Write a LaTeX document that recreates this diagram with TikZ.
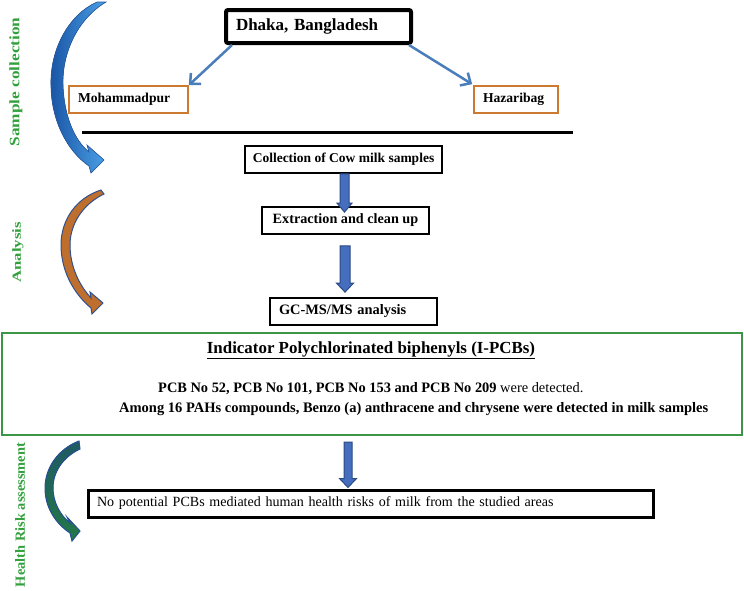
\documentclass[tikz,border=0pt]{standalone}
\usepackage{fontspec}
\setmainfont{Liberation Serif}
\usepackage{graphicx}
\usetikzlibrary{arrows.meta,calc}
\definecolor{boxorange}{RGB}{204,122,48}
\definecolor{thinblue}{RGB}{74,126,187}
\definecolor{blkfill}{RGB}{70,110,190}
\definecolor{blkdraw}{RGB}{44,74,130}
\definecolor{resgreen}{RGB}{60,150,70}
\definecolor{lblgreen}{RGB}{50,160,60}
\newcommand\blkarrow[7]{%
  \filldraw[blockarrow] let \p1=(#2.south), \p2=(#4.north) in
    ({#1pt-#6pt},{\y1-#3pt}) -- ({#1pt+#6pt},{\y1-#3pt}) -- ({#1pt+#6pt},{\y2+#5pt+9pt})
    -- ({#1pt+#7pt},{\y2+#5pt+9pt}) -- (#1pt,{\y2+#5pt}) -- ({#1pt-#7pt},{\y2+#5pt+9pt})
    -- ({#1pt-#6pt},{\y2+#5pt+9pt}) -- cycle;}
\begin{document}
\begin{tikzpicture}[x=1pt,y=-1pt,
  plainbox/.style={draw=black, line width=1.8pt, minimum height=27pt, inner sep=0pt, font=\fontsize{13.6}{15}\selectfont\bfseries},
  orangebox/.style={draw=boxorange, line width=1.6pt, minimum height=27pt, inner xsep=9pt, inner ysep=0pt, align=left, font=\fontsize{13.6}{15}\selectfont\bfseries},
  thinarrow/.style={draw=thinblue, line width=2.5pt, -{Straight Barb[length=8pt,width=15pt]}},
  blockarrow/.style={fill=blkfill, draw=blkdraw, line width=1pt},
  sidelabel/.style={text=lblgreen, font=\bfseries, rotate=90, inner sep=0pt}]
\useasboundingbox (0,0) rectangle (744,590);

% sample collection section
\node[draw=black, line width=4pt, rounded corners=2pt, minimum width=185pt, minimum height=33pt,
      inner xsep=10pt, text width=165pt, align=left, font=\fontsize{17}{19}\selectfont\bfseries]
      (dhaka) at (318.5,26.5) {Dhaka, Bangladesh};
\node[orangebox, minimum width=119pt, text width=101pt] (moh) at (128.5,99.5) {Mohammadpur};
\node[orangebox, minimum width=84pt, text width=66pt] (haz) at (516,99.5) {Hazaribag};
\draw[thinarrow] ($(dhaka.south west)+(8,0)$) -- (moh.north east);
\draw[thinarrow] ($(dhaka.south east)+(-4,0)$) -- ($(haz.north west)+(-1,-1)$);
\coordinate (lineL) at (82,132);
\coordinate (lineR) at (573,132);
\draw[black, line width=3pt] (lineL) -- (lineR);

% analysis boxes
\node[plainbox, minimum width=197pt, font=\fontsize{13.5}{15}\selectfont\bfseries] (coll) at (343.5,159.5) {Collection of Cow milk samples};
\node[plainbox, minimum width=167pt, font=\fontsize{14.2}{15}\selectfont\bfseries] (extr) at (345.5,220.5) {Extraction and clean up};
\node[plainbox, minimum width=167pt, inner xsep=9pt, text width=149pt, align=left, font=\fontsize{14.4}{15}\selectfont\bfseries] (gcms) at (353.5,311.5) {GC-MS/MS analysis};
\blkarrow{344.5}{coll}{0}{extr}{-6}{4.5}{7.5}
\blkarrow{345}{extr}{11}{gcms}{5}{5}{8.5}

% results box
\node[draw=resgreen, line width=2pt, minimum width=740pt, minimum height=102pt, inner sep=0pt] (res) at (372,384) {};
\node[anchor=base, inner sep=0pt, font=\fontsize{16.9}{18}\selectfont\bfseries] (title) at (371,353)
  {\underline{Indicator Polychlorinated biphenyls (I-PCBs)}};
\node[anchor=base west, inner sep=0pt, font=\fontsize{14.4}{16}\selectfont] (res1) at (158,392)
  {\textbf{PCB No 52, PCB No 101, PCB No 153 and PCB No 209} were detected.};
\node[anchor=base west, inner sep=0pt, font=\fontsize{14.5}{16}\selectfont\bfseries] (res2) at (119,412)
  {Among 16 PAHs compounds, Benzo (a) anthracene and chrysene were detected in milk samples};

% health box
\node[draw=black, line width=3pt, minimum width=565pt, minimum height=27pt, inner xsep=9pt, inner ysep=0pt,
      text width=547pt, align=left, font=\fontsize{14.05}{16}\selectfont] (health) at (370.5,503.5)
  {No potential PCBs mediated human health risks of milk from the studied areas};
\blkarrow{348}{res}{6}{health}{1}{4}{8.5}

% side labels
\node[sidelabel] (lblS) at (16,82) {\scalebox{1.2}[1]{\fontsize{14.4}{15}\selectfont\bfseries Sample collection}};
\node[sidelabel] (lblA) at (18,252.5) {\scalebox{1.35}[1]{\fontsize{12.4}{13}\selectfont\bfseries Analysis}};
\node[sidelabel] (lblH) at (20,515) {\scalebox{1.03}[1]{\fontsize{14}{15}\selectfont\bfseries Health Risk assessment}};

% curved arrows
\filldraw[draw={rgb,255:red,40;green,90;blue,160}, line width=0.6pt,
  left color={rgb,255:red,25;green,85;blue,165}, right color={rgb,255:red,75;green,160;blue,230}]
  (106,2) .. controls (76,20) and (62,55) .. (63,85) .. controls (64,115) and (74,140) .. (89,152)
  -- (87,145) -- (104,160) -- (91,173) -- (89,166) .. controls (67,151) and (51,120) .. (51,85)
  .. controls (50,50) and (68,15) .. (97,2) -- cycle;
\filldraw[draw={rgb,255:red,50;green,80;blue,140}, line width=1pt, fill={rgb,255:red,190;green,110;blue,45}]
  (104,194) .. controls (83,204) and (70,224) .. (70,245) .. controls (70,266) and (79,285) .. (91,298)
  -- (90,292) -- (103,303) -- (92,314) -- (91,308) .. controls (73,293) and (61,270) .. (61,245)
  .. controls (61,220) and (76,198) .. (101,190) -- cycle;
\filldraw[draw={rgb,255:red,40;green,80;blue,150}, line width=1pt,
  top color={rgb,255:red,30;green,90;blue,100}, bottom color={rgb,255:red,35;green,120;blue,70}]
  (80,449) .. controls (63,457) and (53,472) .. (53,488) .. controls (53,502) and (60,515) .. (70,523)
  -- (67,517) -- (80,531) -- (72,541) -- (70,533) .. controls (55,523) and (45,507) .. (45,488)
  .. controls (45,468) and (58,449) .. (79,441) -- cycle;
\end{tikzpicture}
\end{document}
